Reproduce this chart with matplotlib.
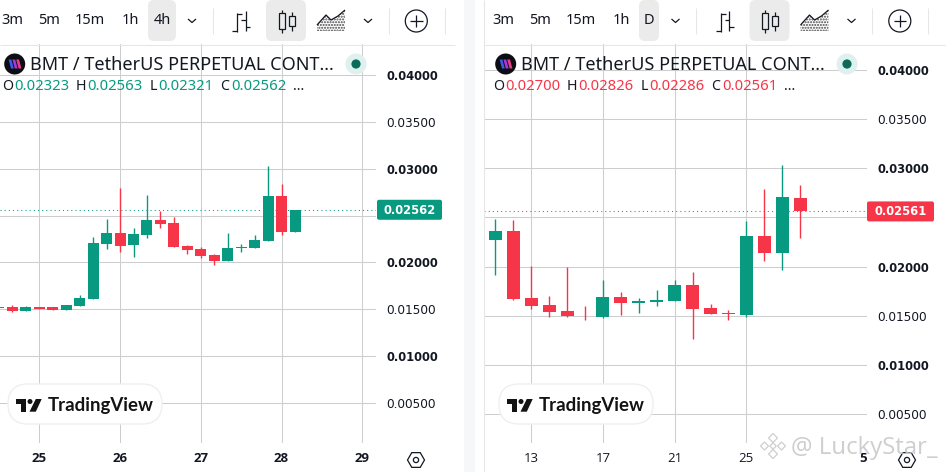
import numpy as np
import matplotlib
matplotlib.use("Agg")
import matplotlib.pyplot as plt
from matplotlib.patches import FancyBboxPatch, Circle, Polygon, Rectangle, RegularPolygon

W, H = 946, 472
GREEN = "#089981"
RED = "#F63648"
GRID = "#CDCDCD"
INK = "#131722"

# 4h chart
left_index = list(range(-3, 20))
left_open = [.01522, .01522, .01479, .01522, .01522, .01490, .01533, .01607, .02194, .02312, .02184, .02290,
             .02450, .02418, .02173, .02141, .02077, .02013, .02152, .02152, .02226, .02706, .02323]
left_close = [.01511, .01479, .01522, .01508, .01490, .01543, .01618, .02205, .02312, .02173, .02301, .02450,
              .02408, .02162, .02130, .02066, .02013, .02152, .02162, .02237, .02706, .02322, .02562]
left_high = [.01522, .01543, .01533, .01529, .01522, .01543, .01650, .02269, .02461, .02792, .02365, .02717,
             .02546, .02482, .02184, .02162, .02088, .02312, .02194, .02290, .03026, .02834, .02563]
left_low = [.01511, .01472, .01479, .01504, .01490, .01490, .01533, .01607, .02141, .02109, .02056, .02258,
            .02365, .02162, .02088, .02045, .01970, .02013, .02109, .02152, .02226, .02290, .02321]

# daily chart
right_days = list(range(11, 29))
right_open = [.02270, .02362, .01683, .01612, .01551, .01510, .01490, .01693, .01632, .01642, .01652, .01814,
              .01581, .01530, .01510, .02311, .02139, .02700]
right_close = [.02362, .01672, .01601, .01541, .01500, .01503, .01693, .01632, .01652, .01662, .01814, .01571,
               .01520, .01520, .02311, .02139, .02706, .02561]
right_high = [.02483, .02473, .02003, .01703, .01997, .01601, .01865, .01743, .01683, .01764, .01865, .01946,
              .01622, .01561, .02463, .02787, .03030, .02826]
right_low = [.01916, .01662, .01571, .01490, .01490, .01460, .01480, .01510, .01530, .01601, .01652, .01267,
             .01520, .01460, .01490, .02057, .01966, .02286]

price_ticks = [.005, .010, .015, .020, .025, .030, .035, .040]
price_labels = ["0.00500", "0.01000", "0.01500", "0.02000", "", "0.03000", "0.03500", "0.04000"]
bold_prices = ["0.01000", "0.02000", "0.03000", "0.04000"]
left_day_ticks = [25, 26, 27, 28, 29]
left_day_labels = ["25", "26", "27", "28", "29"]
right_day_ticks = [13, 17, 21, 25, 31.5]
right_day_labels = ["13", "17", "21", "25", "5"]
left_ohlc = ["0.02323", "0.02563", "0.02321", "0.02562"]
right_ohlc = ["0.02700", "0.02826", "0.02286", "0.02561"]

fig = plt.figure(figsize=(W / 100, H / 100), dpi=100, facecolor="white")


def panel_axes(x0, x1, y0=44, y1=443):
    return fig.add_axes([x0 / W, 1 - y1 / H, (x1 - x0) / W, (y1 - y0) / H], facecolor="none")


def candles(ax, xs, o, h, l, c, width):
    o, h, l, c = map(np.asarray, (o, h, l, c))
    col = np.where(c >= o, GREEN, RED)
    ax.vlines(xs, l, h, colors=col, linewidth=1.0, zorder=3)
    ax.bar(xs, np.abs(c - o), width=width, bottom=np.minimum(o, c), color=col, linewidth=0, zorder=4)


def style(ax, xticks, xlabels, xlim, ylim):
    ax.set_xlim(*xlim)
    ax.set_ylim(*ylim)
    for s in ax.spines.values():
        s.set_visible(False)
    ax.yaxis.tick_right()
    ax.set_yticks(price_ticks, price_labels)
    ax.set_xticks(xticks, xlabels)
    ax.tick_params(axis="both", length=0, colors=INK)
    ax.tick_params(axis="y", pad=7.2, labelsize=8.7)
    ax.tick_params(axis="x", pad=6.5, labelsize=9.5)
    ax.grid(True, color=GRID, linewidth=0.75, zorder=0)
    ax.set_axisbelow(True)
    for t in ax.get_yticklabels():
        if t.get_text() in bold_prices:
            t.set_fontweight("bold")
            t.set_fontsize(8.3)
    for t in ax.get_xticklabels():
        t.set_family("Open Sans")


# left chart
axL = panel_axes(0, 376)
xL = [25 + i / 6 for i in left_index]
candles(axL, xL, left_open, left_high, left_low, left_close, 11 / 80.75)
style(axL, left_day_ticks, left_day_labels,
      (25 - 39.3 / 80.75, 25 + (376 - 39.3) / 80.75),
      (0.04 - (443 - 75) / 46.86 * .005, 0.04 + (75 - 44) / 46.86 * .005))
for t in axL.get_xticklabels():
    t.set_fontweight("bold")
axL.axhline(left_close[-1], color=GREEN, linewidth=0.75, linestyle=(0, (1, 3)), zorder=2)

# right chart
axR = panel_axes(484, 867)
candles(axR, right_days, right_open, right_high, right_low, right_close, 13 / 17.92)
style(axR, right_day_ticks, right_day_labels,
      (13 + (484 - 531.3) / 17.92, 13 + (867 - 531.3) / 17.92),
      (0.04 - (443 - 70) / 49.14 * .005, 0.04 + (70 - 44) / 49.14 * .005))
axR.get_xticklabels()[-1].set_fontweight("bold")
axR.xaxis.get_gridlines()[-1].set_visible(False)
axR.axhline(right_close[-1], color=RED, linewidth=0.75, linestyle=(0, (1, 3)), zorder=2)

# chrome in pixel coordinates
ov = fig.add_axes([0, 0, 1, 1], facecolor="none", zorder=10)
ov.set_xlim(0, W)
ov.set_ylim(H, 0)
ov.axis("off")
renderer = fig.canvas.get_renderer()


def fit(x0, x1, y, s, size=10, **kw):
    t = ov.text(x0, y, s, va="center", ha="left", fontsize=size, **kw)
    t.set_fontsize(size * (x1 - x0) / t.get_window_extent(renderer).width)
    return t


def line(xs, ys, lw=0.9, c=INK, **kw):
    ov.plot(xs, ys, color=c, linewidth=lw, solid_capstyle="butt", **kw)


def rbox(x0, y0, x1, y1, r, fc, ec="none", lw=0, z=1):
    ov.add_patch(FancyBboxPatch((x0 + r, y0 + r), x1 - x0 - 2 * r, y1 - y0 - 2 * r,
                                boxstyle=f"round,pad={r},rounding_size={r}", fc=fc, ec=ec, lw=lw, zorder=z,
                                mutation_aspect=1))


SANS = "Noto Sans"

# panel separators
ov.add_patch(Rectangle((464, 0), 11, H, fc="#F6F7F9", ec="none", zorder=0))
line([483.5, 483.5], [0, H], c="#E6E6E6", lw=0.75, zorder=0)
line([0, 455], [44.5, 44.5], c="#E6E6E6", lw=0.75)
line([483.5, 946], [44.5, 44.5], c="#E6E6E6", lw=0.75)


def toolbar(dx, labels, hi):
    for cx, s in labels:
        ov.text(cx, 21, s, ha="center", va="center", fontsize=10.5, family=SANS, color=INK, zorder=3)
    rbox(hi[0], 0, hi[1], 41, 6, "#EBEBEB", z=1)
    rbox(266 + dx, 0, 306 + dx, 41, 6, "#EBEBEB", z=1)
    # chevrons
    for c in (192, 368):
        line([c - 4 + dx, c + dx, c + 4 + dx], [19, 22.5, 19], lw=0.9)
    # separators
    for c in (212.5, 388.5, 444.5):
        line([c + dx, c + dx], [8, 34], c="#E6E6E6", lw=0.75)
    # bar icon
    line([237 + dx, 237 + dx], [13, 32]); line([232 + dx, 237 + dx], [31, 31]); line([237 + dx, 242 + dx], [13.5, 13.5])
    line([245.5 + dx, 245.5 + dx], [11, 31]); line([241 + dx, 245.5 + dx], [20, 20]); line([245.5 + dx, 250 + dx], [27, 27])
    # candle icon
    for cx, b0, b1, w0, w1, hw in ((281.7, 13, 29, 10, 33, 3.2), (291.7, 16, 26, 12, 31, 2.8)):
        line([cx + dx, cx + dx], [w0, w1])
        ov.add_patch(Rectangle((cx - hw + dx, b0), 2 * hw, b1 - b0, fc="#EBEBEB", ec=INK, lw=0.9, zorder=3))
    # area icon
    ax_ = [317, 326, 331, 338, 345]
    ay_ = [25, 15, 20, 16, 10]
    ov.fill_between([a + dx for a in ax_], ay_, 31, facecolor="none", edgecolor="#444444", hatch="......", linewidth=0, zorder=2)
    line([a + dx for a in ax_], ay_, lw=0.9)
    # plus
    ov.add_patch(Circle((416.3 + dx, 21), 11, fc="none", ec=INK, lw=0.9, zorder=3))
    line([410 + dx, 422.5 + dx], [21, 21]); line([416.3 + dx, 416.3 + dx], [15, 27])


toolbar(0, [(12, "3m"), (49, "5m"), (90, "15m"), (130, "1h"), (162, "4h")], (148, 176))
toolbar(483.5, [(503, "3m"), (540, "5m"), (581, "15m"), (621, "1h"), (649, "D")], (639, 659))


def header(dx, vals, col):
    # symbol logo
    ov.add_patch(Circle((14.7 + dx, 64), 10.5, fc="#0D0D14", ec="none", zorder=4))
    for off, c in ((-4.2, "#3D5BE8"), (-0.4, "#A03BD8"), (3.4, "#EE3A8C")):
        ov.add_patch(Polygon([(9.2 + off + 1.6 + dx + 2, 59.5), (9.2 + off + 4.4 + dx + 2, 59.5),
                              (9.2 + off + 6.8 + dx + 2, 68.5), (9.2 + off + 4.0 + dx + 2, 68.5)],
                             fc=c, ec="none", zorder=5))
    fit(30 + dx, 334 + dx, 65, "BMT / TetherUS PERPETUAL CONT...", family=SANS, color=INK, zorder=4)
    # status dot
    ov.add_patch(Circle((356 + dx, 64), 10.5, fc="#DFF1EE", ec="none", zorder=4))
    ov.add_patch(Circle((356 + dx, 64), 4.6, fc="#0A6B5A", ec="none", zorder=5))
    # ohlc
    for lab, lx, vx, val in zip("OHLC", (2, 76, 150, 220), (14, 87, 158, 231), vals):
        ov.text(lx + dx, 87, lab, fontsize=10.2, family=SANS, color=INK, va="center", zorder=4)
        fit(vx + dx, vx + 54.5 + dx, 87, val, family=SANS, color=col, zorder=4)
    ov.text(293 + dx, 87, "...", fontsize=10.2, family=SANS, color=INK, va="center", fontweight="bold", zorder=4)


header(0, left_ohlc, GREEN)
header(491, right_ohlc, RED)


def price_tag(ax, x0, x1, price, col):
    ypx = ov.transData.inverted().transform(ax.transData.transform((0, price)))[1]
    rbox(x0, ypx - 10, x1, ypx + 10, 2, col, z=6)
    ov.text((x0 + x1) / 2, ypx + 0.5, f"{price:.5f}", ha="center", va="center", color="white",
            fontweight="bold", fontsize=8.3, zorder=7)


price_tag(axL, 377, 442, left_close[-1], GREEN)
price_tag(axR, 867, 934, right_close[-1], RED)


def badge(dx):
    rbox(8 + dx, 384, 162 + dx, 424, 20, "white", ec="#EFEFEF", lw=1.0, z=4)
    ov.add_patch(Polygon([(16 + dx, 399), (26.3 + dx, 399), (26.3 + dx, 411.7), (21 + dx, 411.7), (21 + dx, 404), (16 + dx, 404)],
                         fc="#131313", ec="none", zorder=5))
    ov.add_patch(Circle((30 + dx, 401.5), 2.5, fc="#131313", ec="none", zorder=5))
    ov.add_patch(Polygon([(35.8 + dx, 399), (41.7 + dx, 399), (35.8 + dx, 411.7), (29.5 + dx, 411.7)],
                         fc="#131313", ec="none", zorder=5))
    fit(48 + dx, 154 + dx, 405, "TradingView", family="Lato", fontweight="bold", color="#131313", zorder=5)


badge(0)
badge(491)


def gear(cx):
    ov.add_patch(RegularPolygon((cx, 460), 6, radius=8.5, orientation=np.pi / 6, fc="none", ec=INK, lw=0.9, zorder=3))
    ov.add_patch(Circle((cx, 460), 2.6, fc="none", ec=INK, lw=0.9, zorder=3))


gear(416)
gear(907)

# watermark
WM = "#C9C9C9"
for cx, cy, r in ((773, 438, 4.5), (764.5, 446, 4.0), (781.5, 446, 4.0), (773, 454, 4.5), (773, 446, 3.2)):
    ov.add_patch(Polygon([(cx - r, cy), (cx, cy - r), (cx + r, cy), (cx, cy + r)], fc="white", ec=WM, lw=0.9, zorder=8, alpha=0.9))
fit(791, 938, 448, "@ LuckyStar_", family="Open Sans", color=WM, zorder=8, alpha=0.9)

fig.savefig("out.png", dpi=100)
